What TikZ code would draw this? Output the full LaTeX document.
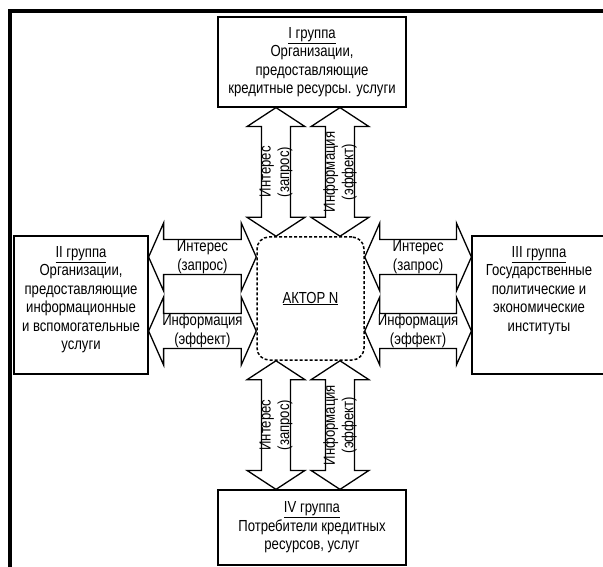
\documentclass[tikz,border=0pt]{standalone}
\usepackage{fontspec}
\setmainfont{Liberation Sans}[FakeStretch=0.82]
\usetikzlibrary{calc}
\newcommand\dblarr[5]{% #1 start, #2 end, #3 half shaft, #4 half head, #5 head length
  \draw[arrline] (#1) -- ($(#1)!#5!(#2)!#4!90:(#2)$) -- ($(#1)!#5!(#2)!#3!90:(#2)$)
    -- ($(#2)!#5!(#1)!#3!-90:(#1)$) -- ($(#2)!#5!(#1)!#4!-90:(#1)$) -- (#2)
    -- ($(#2)!#5!(#1)!#4!90:(#1)$) -- ($(#2)!#5!(#1)!#3!90:(#1)$)
    -- ($(#1)!#5!(#2)!#3!-90:(#2)$) -- ($(#1)!#5!(#2)!#4!-90:(#2)$) -- cycle;}
\tikzset{
  every node/.style={font=\fontsize{16}{18.5}\selectfont},
  grpbox/.style={draw, line width=1.2pt, fill=white, inner sep=0pt, align=center},
  arrline/.style={draw, line width=1.3pt, fill=white, line join=miter},
  arrtext/.style={inner sep=0pt, align=center},
  frameline/.style={line width=4pt, line join=miter}
}
\begin{document}
\begin{tikzpicture}[x=1pt,y=-1pt]
\useasboundingbox (0,0) rectangle (603,567);
\clip (0,0) rectangle (603,567);
\draw[frameline] (10,569) -- (10,11) -- (605,11);

\node[grpbox, minimum width=188pt, minimum height=90pt] (g1) at (312,62)
  {\underline{I группа}\\Организации,\\предоставляющие\\кредитные ресурсы. услуги};
\node[grpbox, minimum width=134pt, minimum height=138pt] (g2) at (81,305)
  {\parbox[c][118pt][t]{130pt}{\centering\underline{II группа}\\Организации,\\предоставляющие\\информационные\\и вспомогательные\\услуги}};
\node[grpbox, minimum width=134pt, minimum height=138pt] (g3) at (539,305)
  {\parbox[c][118pt][t]{130pt}{\centering\underline{III группа}\\Государственные\\политические и\\экономические\\институты}};
\node[grpbox, minimum width=188pt, minimum height=75pt] (g4) at (312,527.5)
  {\underline{IV группа}\\Потребители кредитных\\ресурсов, услуг};
\node[draw, line width=1.5pt, dash pattern=on 3pt off 2pt, rounded corners=12pt,
  minimum width=107pt, minimum height=123pt, fill=white] (actor) at (310.5,298.5)
  {\underline{АКТОР N}};

\coordinate (cx1) at (276,0);
\coordinate (cx2) at (340,0);
\coordinate (cy1) at (0,257);
\coordinate (cy2) at (0,331);

\coordinate (a1s) at (cx1 |- g1.south);   \coordinate (a1e) at (cx1 |- actor.north);
\coordinate (a2s) at (cx2 |- g1.south);   \coordinate (a2e) at (cx2 |- actor.north);
\coordinate (a3s) at (cx1 |- actor.south);\coordinate (a3e) at (cx1 |- g4.north);
\coordinate (a4s) at (cx2 |- actor.south);\coordinate (a4e) at (cx2 |- g4.north);
\coordinate (a5s) at (g2.east |- cy1);    \coordinate (a5e) at (actor.west |- cy1);
\coordinate (a6s) at (g2.east |- cy2);    \coordinate (a6e) at (actor.west |- cy2);
\coordinate (a7s) at (actor.east |- cy1); \coordinate (a7e) at (g3.west |- cy1);
\coordinate (a8s) at (actor.east |- cy2); \coordinate (a8e) at (g3.west |- cy2);

\dblarr{a1s}{a1e}{14.5pt}{29pt}{19pt}
\dblarr{a2s}{a2e}{14.5pt}{29pt}{19pt}
\dblarr{a3s}{a3e}{14.5pt}{29pt}{19pt}
\dblarr{a4s}{a4e}{14.5pt}{29pt}{19pt}
\dblarr{a5s}{a5e}{17.5pt}{34pt}{15pt}
\dblarr{a6s}{a6e}{17.5pt}{34pt}{15pt}
\dblarr{a7s}{a7e}{17.5pt}{34pt}{15pt}
\dblarr{a8s}{a8e}{17.5pt}{34pt}{15pt}

\node[arrtext, rotate=90] (t1) at ($(a1s)!0.5!(a1e)$) {Интерес\\(запрос)};
\node[arrtext, rotate=90] (t2) at ($(a2s)!0.5!(a2e)$) {Информация\\(эффект)};
\node[arrtext, rotate=90] (t3) at ($(a3s)!0.5!(a3e)$) {Интерес\\(запрос)};
\node[arrtext, rotate=90] (t4) at ($(a4s)!0.5!(a4e)$) {Информация\\(эффект)};
\node[arrtext] (t5) at ($(a5s)!0.5!(a5e)$) {Интерес\\(запрос)};
\node[arrtext] (t6) at ($(a6s)!0.5!(a6e)$) {Информация\\(эффект)};
\node[arrtext] (t7) at ($(a7s)!0.5!(a7e)$) {Интерес\\(запрос)};
\node[arrtext] (t8) at ($(a8s)!0.5!(a8e)$) {Информация\\(эффект)};
\end{tikzpicture}
\end{document}
